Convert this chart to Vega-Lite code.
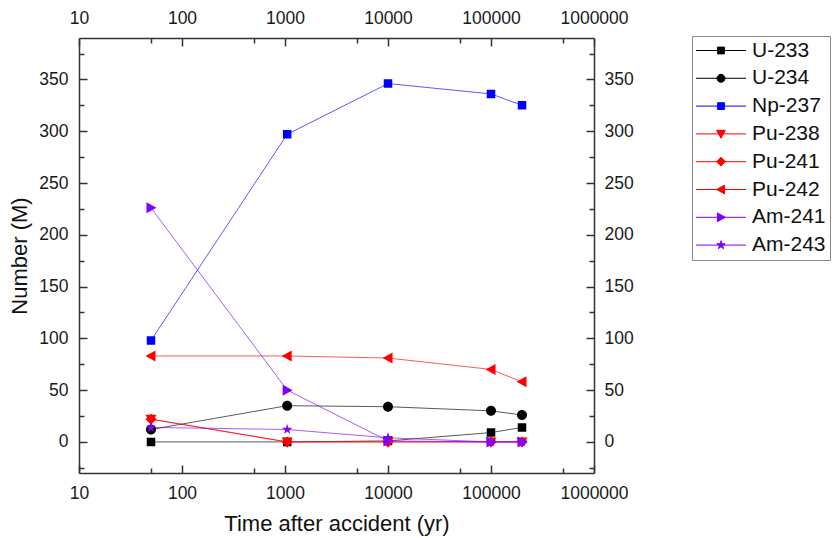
{
  "$schema": "https://vega.github.io/schema/vega-lite/v6.json",
  "autosize": {"type": "none"},
  "padding": {"left": 79, "top": 38, "right": 241, "bottom": 65},
  "width": 515,
  "height": 435,
  "config": {
    "view": {"stroke": null},
    "font": "Liberation Sans",
    "axis": {
      "grid": false,
      "labelFont": "Liberation Sans",
      "labelFontSize": 17.5,
      "labelColor": "#1a1a1a",
      "domainColor": "#333333",
      "domainWidth": 1.5,
      "tickColor": "#333333",
      "tickWidth": 1.5,
      "titleFont": "Liberation Sans",
      "titleFontSize": 22,
      "titleFontWeight": "normal",
      "titleColor": "#111111"
    }
  },
  "data": {
    "values": [
      {"nuclide": "U-233", "time": 50, "number": 0},
      {"nuclide": "U-233", "time": 1050, "number": 0},
      {"nuclide": "U-233", "time": 10000, "number": 1},
      {"nuclide": "U-233", "time": 100000, "number": 9},
      {"nuclide": "U-233", "time": 200000, "number": 14},
      {"nuclide": "U-234", "time": 50, "number": 12},
      {"nuclide": "U-234", "time": 1050, "number": 35},
      {"nuclide": "U-234", "time": 10000, "number": 34},
      {"nuclide": "U-234", "time": 100000, "number": 30},
      {"nuclide": "U-234", "time": 200000, "number": 26},
      {"nuclide": "Np-237", "time": 50, "number": 98},
      {"nuclide": "Np-237", "time": 1050, "number": 297},
      {"nuclide": "Np-237", "time": 10000, "number": 346},
      {"nuclide": "Np-237", "time": 100000, "number": 336},
      {"nuclide": "Np-237", "time": 200000, "number": 325},
      {"nuclide": "Pu-238", "time": 50, "number": 22},
      {"nuclide": "Pu-238", "time": 1050, "number": 0},
      {"nuclide": "Pu-238", "time": 10000, "number": 0},
      {"nuclide": "Pu-238", "time": 100000, "number": 0},
      {"nuclide": "Pu-238", "time": 200000, "number": 0},
      {"nuclide": "Pu-241", "time": 50, "number": 22},
      {"nuclide": "Pu-241", "time": 1050, "number": 0},
      {"nuclide": "Pu-241", "time": 10000, "number": 0},
      {"nuclide": "Pu-241", "time": 100000, "number": 0},
      {"nuclide": "Pu-241", "time": 200000, "number": 0},
      {"nuclide": "Pu-242", "time": 50, "number": 83},
      {"nuclide": "Pu-242", "time": 1050, "number": 83},
      {"nuclide": "Pu-242", "time": 10000, "number": 81},
      {"nuclide": "Pu-242", "time": 100000, "number": 70},
      {"nuclide": "Pu-242", "time": 200000, "number": 58},
      {"nuclide": "Am-241", "time": 50, "number": 226},
      {"nuclide": "Am-241", "time": 1050, "number": 50},
      {"nuclide": "Am-241", "time": 10000, "number": 1},
      {"nuclide": "Am-241", "time": 100000, "number": 0},
      {"nuclide": "Am-241", "time": 200000, "number": 0},
      {"nuclide": "Am-243", "time": 50, "number": 14},
      {"nuclide": "Am-243", "time": 1050, "number": 12},
      {"nuclide": "Am-243", "time": 10000, "number": 4},
      {"nuclide": "Am-243", "time": 100000, "number": 0},
      {"nuclide": "Am-243", "time": 200000, "number": 0}
    ]
  },
  "resolve": {"axis": {"x": "independent", "y": "independent"}},
  "layer": [
    {
      "mark": {"type": "line", "strokeWidth": 1, "opacity": 0.65},
      "encoding": {
        "x": {
          "field": "time", "type": "quantitative",
          "scale": {"type": "log", "domain": [10, 1000000], "nice": false},
          "axis": {"orient": "bottom", "values": [10, 100, 1000, 10000, 100000, 1000000], "format": "d", "tickSize": -8, "labelPadding": 19, "title": "Time after accident (yr)", "titlePadding": 12, "labelFlush": false, "labelOverlap": false}
        },
        "y": {
          "field": "number", "type": "quantitative",
          "scale": {"domain": [-30, 390], "nice": false, "zero": false},
          "axis": {"orient": "left", "values": [0, 50, 100, 150, 200, 250, 300, 350], "tickSize": -8, "labelPadding": 19, "title": "Number (M)", "titlePadding": 7, "labelFlush": false, "labelOverlap": false}
        },
        "color": {
          "field": "nuclide", "type": "nominal",
          "scale": {
            "domain": ["U-233", "U-234", "Np-237", "Pu-238", "Pu-241", "Pu-242", "Am-241", "Am-243"],
            "range": ["#000000", "#000000", "#0000ff", "#ff0000", "#ff0000", "#ff0000", "#8000ff", "#8000ff"]
          },
          "legend": {
            "title": null,
            "orient": "none",
            "legendX": 613,
            "legendY": -2,
            "padding": 4,
            "strokeColor": "#888888",
            "labelFont": "Liberation Sans",
            "labelFontSize": 21,
            "labelColor": "#111111",
            "symbolSize": 64,
            "symbolOffset": 14.5,
            "labelOffset": 20.5,
            "rowPadding": 5.8,
            "symbolStrokeWidth": 1,
            "symbolOpacity": 1
          }
        }
      }
    },
    {
      "mark": {"type": "point", "filled": true, "size": 100, "opacity": 1},
      "encoding": {
        "x": {
          "field": "time", "type": "quantitative",
          "axis": {"orient": "top", "values": [10, 100, 1000, 10000, 100000, 1000000], "format": "d", "tickSize": -8, "labelPadding": 19, "title": null, "labelFlush": false, "labelOverlap": false}
        },
        "y": {
          "field": "number", "type": "quantitative",
          "axis": {"orient": "right", "values": [0, 50, 100, 150, 200, 250, 300, 350], "tickSize": -8, "labelPadding": 18, "title": null, "labelFlush": false, "labelOverlap": false}
        },
        "color": {"field": "nuclide", "type": "nominal"},
        "shape": {
          "field": "nuclide", "type": "nominal",
          "scale": {
            "domain": ["U-233", "U-234", "Np-237", "Pu-238", "Pu-241", "Pu-242", "Am-241", "Am-243"],
            "range": [
              "M-6.25,0H6.25M-0.85,-0.85H0.85V0.85H-0.85Z",
              "M-6.25,0H6.25M1,0A1,1,0,1,1,-1,0A1,1,0,1,1,1,0Z",
              "M-6.25,0H6.25M-0.85,-0.85H0.85V0.85H-0.85Z",
              "M-6.25,0H6.25M-1.1,-0.9H1.1L0,1.1Z",
              "M-6.25,0H6.25M0,-1.1L1.1,0L0,1.1L-1.1,0Z",
              "M-6.25,0H6.25M-1.1,0L0.9,-1.1V1.1Z",
              "M-6.25,0H6.25M1.1,0L-0.9,-1.1V1.1Z",
              "M-6.25,0H6.25M0,-1.1L0.247,-0.34L1.046,-0.34L0.4,0.13L0.647,0.89L0,0.42L-0.647,0.89L-0.4,0.13L-1.046,-0.34L-0.247,-0.34Z"
            ]
          },
          "legend": null
        }
      }
    },
    {
      "mark": {"type": "point", "opacity": 0},
      "encoding": {
        "x": {
          "field": "time", "type": "quantitative",
          "axis": {"orient": "bottom", "values": [50, 500, 5000, 50000, 500000], "labels": false, "domain": false, "tickSize": -5, "title": null}
        },
        "y": {
          "field": "number", "type": "quantitative",
          "axis": {"orient": "left", "values": [-25, 25, 75, 125, 175, 225, 275, 325, 375], "labels": false, "domain": false, "tickSize": -5, "title": null}
        }
      }
    },
    {
      "mark": {"type": "point", "opacity": 0},
      "encoding": {
        "x": {
          "field": "time", "type": "quantitative",
          "axis": {"orient": "top", "values": [50, 500, 5000, 50000, 500000], "labels": false, "domain": false, "tickSize": -5, "title": null}
        },
        "y": {
          "field": "number", "type": "quantitative",
          "axis": {"orient": "right", "values": [-25, 25, 75, 125, 175, 225, 275, 325, 375], "labels": false, "domain": false, "tickSize": -5, "title": null}
        }
      }
    }
  ]
}
